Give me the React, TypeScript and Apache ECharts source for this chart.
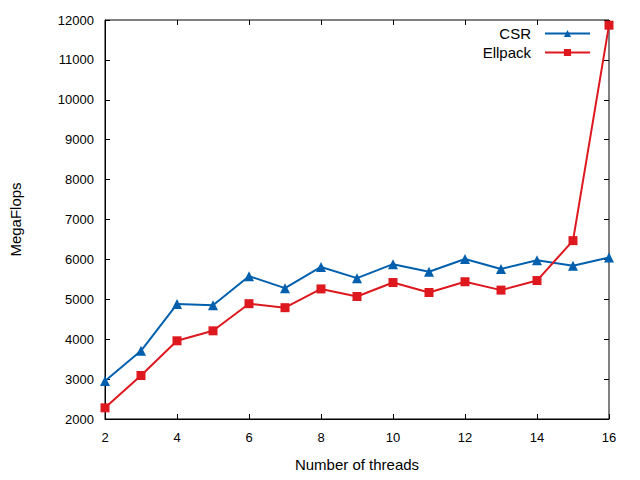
import React, { useEffect, useRef } from 'react';
import * as echarts from 'echarts';

// Sparse matrix-vector product throughput vs. thread count
const threads = [2, 3, 4, 5, 6, 7, 8, 9, 10, 11, 12, 13, 14, 15, 16];
const csrMflops = [2950, 3710, 4880, 4850, 5580, 5280, 5810, 5530, 5880, 5690, 6010, 5760, 5980, 5840, 6050];
const ellpackMflops = [2280, 3090, 3960, 4210, 4890, 4790, 5260, 5070, 5420, 5170, 5440, 5230, 5470, 6470, 11870];

const CSR_COLOR = '#0060ad';
const ELL_COLOR = '#dd181f';
const FONT = 'Liberation Sans, Arial, sans-serif';

const pairs = (ys: number[]) => threads.map((t, i) => [t, ys[i]]);

export default function App() {
  const chartRef = useRef<HTMLDivElement>(null);

  useEffect(() => {
    if (!chartRef.current) return;
    const chart = echarts.init(chartRef.current, undefined, { renderer: 'svg' });

    const tickText = { color: '#000', fontSize: 13, fontFamily: FONT };
    const nameText = { color: '#000', fontSize: 15, fontFamily: FONT };
    const ticks = { show: true, inside: true, length: 5, lineStyle: { color: '#000' } };
    const legendBase = {
      orient: 'horizontal' as const,
      right: 49,
      align: 'right' as const,
      itemWidth: 45,
      itemHeight: 9,
      textStyle: { ...nameText, padding: [0, 9, 0, 0] },
      padding: 0,
    };

    chart.setOption({
      animation: false,
      backgroundColor: '#fff',
      textStyle: { fontFamily: FONT },
      grid: {
        left: 104,
        right: 31,
        top: 20,
        bottom: 61,
        show: true,
        borderColor: '#000',
        borderWidth: 1,
        backgroundColor: 'transparent',
      },
      legend: [
        { ...legendBase, top: 26, data: ['CSR'] },
        { ...legendBase, top: 45, data: ['Ellpack'] },
      ],
      xAxis: [
        {
          type: 'value',
          min: 2,
          max: 16,
          interval: 2,
          name: 'Number of threads',
          nameLocation: 'middle',
          nameGap: 38,
          nameTextStyle: nameText,
          axisLine: { show: true, lineStyle: { color: '#000', width: 1 } },
          axisTick: ticks,
          axisLabel: { ...tickText, margin: 12 },
          splitLine: { show: false },
        },
        {
          type: 'value',
          position: 'top',
          min: 2,
          max: 16,
          interval: 2,
          axisLine: { show: false },
          axisTick: ticks,
          axisLabel: { show: false },
          splitLine: { show: false },
        },
      ],
      yAxis: [
        {
          type: 'value',
          min: 2000,
          max: 12000,
          interval: 1000,
          name: 'MegaFlops',
          nameLocation: 'middle',
          nameGap: 82,
          nameTextStyle: nameText,
          axisLine: { show: true, lineStyle: { color: '#000', width: 1 } },
          axisTick: ticks,
          axisLabel: { ...tickText, margin: 11, formatter: (v: number) => String(v) },
          splitLine: { show: false },
        },
        {
          type: 'value',
          position: 'right',
          min: 2000,
          max: 12000,
          interval: 1000,
          axisLine: { show: false },
          axisTick: ticks,
          axisLabel: { show: false },
          splitLine: { show: false },
        },
      ],
      series: [
        {
          name: 'CSR',
          type: 'line',
          data: pairs(csrMflops),
          symbol: 'triangle',
          symbolSize: 10,
          showAllSymbol: true,
          lineStyle: { color: CSR_COLOR, width: 2 },
          itemStyle: { color: CSR_COLOR },
        },
        {
          name: 'Ellpack',
          type: 'line',
          data: pairs(ellpackMflops),
          symbol: 'rect',
          symbolSize: 9,
          showAllSymbol: true,
          lineStyle: { color: ELL_COLOR, width: 2 },
          itemStyle: { color: ELL_COLOR },
        },
      ],
    });

    return () => chart.dispose();
  }, []);

  return <div ref={chartRef} style={{ width: 640, height: 480, margin: -8 }} />;
}
